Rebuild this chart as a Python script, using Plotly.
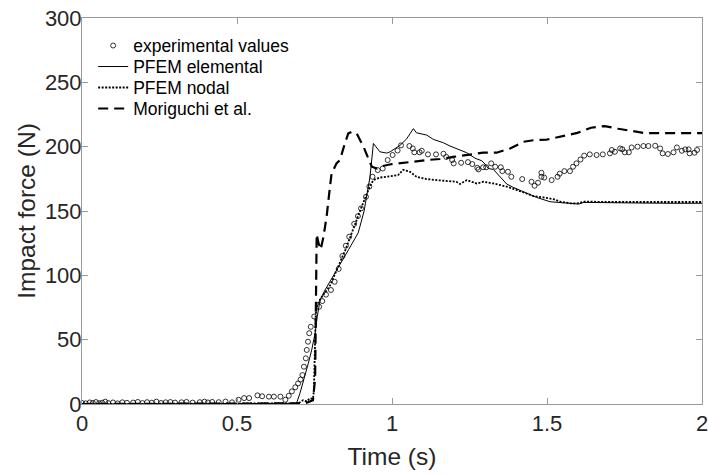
import plotly.graph_objects as go

# Experimental values (circles)
exp_t = [0.0, 0.012, 0.025, 0.035, 0.045, 0.055, 0.065, 0.075, 0.085, 0.1, 0.115, 0.13, 0.145,
         0.165, 0.18, 0.195, 0.21, 0.225, 0.24, 0.255, 0.27, 0.285, 0.3, 0.321, 0.337, 0.357,
         0.38, 0.395, 0.406, 0.42, 0.441, 0.463, 0.484, 0.505, 0.523, 0.539, 0.566, 0.581,
         0.603, 0.619, 0.640, 0.656, 0.667, 0.677, 0.688, 0.697, 0.705, 0.711, 0.716, 0.722,
         0.725, 0.729, 0.733, 0.738, 0.749, 0.765, 0.775, 0.787, 0.803, 0.815, 0.828, 0.84,
         0.851, 0.862, 0.878, 0.89, 0.9, 0.916, 0.927, 0.937, 0.954, 0.970, 0.986, 1.002,
         1.018, 1.029, 1.056, 1.067, 1.072, 1.089, 1.096, 1.116, 1.142, 1.166, 1.175, 1.194,
         1.199, 1.223, 1.245, 1.259, 1.275, 1.279, 1.294, 1.304, 1.320, 1.333, 1.351, 1.356,
         1.374, 1.385, 1.420, 1.450, 1.460, 1.471, 1.482, 1.482, 1.491, 1.515, 1.534, 1.541,
         1.556, 1.574, 1.584, 1.595, 1.608, 1.620, 1.638, 1.660, 1.680, 1.703, 1.709, 1.719,
         1.736, 1.743, 1.751, 1.764, 1.773, 1.792, 1.811, 1.827, 1.849, 1.865, 1.873, 1.890,
         1.908, 1.919, 1.935, 1.946, 1.957, 1.960, 1.976, 1.984]
exp_f = [0.8, 0.5, 1.2, 0.8, 1.5, 0.6, 1.0, 1.8, 0.7, 1.2, 0.5, 1.3, 0.9,
         1.1, 1.6, 0.7, 1.4, 1.0, 1.8, 0.8, 1.3, 1.5, 1.1, 1.3, 1.6, 1.1,
         1.4, 1.8, 1.2, 1.6, 1.4, 1.9, 1.3, 3.3, 4.6, 4.6, 6.7, 6.0,
         5.7, 5.7, 5.7, 3.3, 6.4, 9.8, 13.0, 16.0, 19.0, 22.5, 29.0, 35.5,
         42.0, 48.4, 55.0, 60.0, 68.0, 75.6, 80.0, 85.0, 88.6, 95.0, 105.0, 115.0,
         123.0, 130.0, 140.0, 146.0, 152.0, 161.0, 169.0, 176.6, 181.8, 183.0, 189.6, 193.5,
         197.0, 201.0, 200.5, 198.6, 195.6, 195.6, 196.8, 194.0, 194.0, 194.5, 192.0, 189.6,
         187.0, 187.5, 188.0, 186.5, 183.6, 182.3, 184.0, 184.0, 187.0, 184.4, 184.0, 181.0,
         180.5, 176.6, 174.8, 172.7, 169.6, 172.0, 179.7, 176.6, 176.0, 174.0, 176.6, 179.0,
         181.0, 181.0, 184.4, 187.0, 190.0, 193.0, 194.0, 193.5, 194.0, 194.8, 197.4, 196.0,
         198.6, 198.0, 195.6, 195.6, 199.4, 200.0, 200.5, 200.5, 200.7, 198.6, 194.8, 194.3,
         195.6, 199.4, 196.8, 197.9, 197.9, 194.8, 195.3, 197.4]

# PFEM elemental (solid)
el_t = [0.0, 0.3, 0.6, 0.68, 0.692, 0.703, 0.719, 0.730, 0.741, 0.752, 0.759, 0.768, 0.784,
        0.80, 0.83, 0.86, 0.891, 0.91, 0.929, 0.940, 0.961, 0.983, 0.994, 1.010, 1.026, 1.047,
        1.058, 1.069, 1.079, 1.101, 1.112, 1.133, 1.166, 1.187, 1.219, 1.241, 1.268, 1.290,
        1.303, 1.311, 1.327, 1.338, 1.348, 1.370, 1.391, 1.434, 1.466, 1.510, 1.565, 1.603,
        1.619, 1.7, 1.8, 1.9, 2.0]
el_f = [0.0, 0.3, 0.5, 0.5, 0.5, 8.3, 21.0, 31.6, 42.0, 55.0, 68.0, 81.0, 88.6,
        95.0, 108.0, 120.0, 133.0, 150.0, 176.6, 202.5, 196.0, 195.0, 196.0, 198.6, 201.0, 206.0,
        210.0, 214.0, 210.8, 209.8, 209.0, 205.7, 203.0, 200.5, 197.4, 195.3, 191.0, 189.0,
        185.7, 183.0, 182.3, 179.3, 176.6, 171.0, 168.4, 163.7, 160.6, 157.2, 156.0, 155.4,
        156.7, 156.3, 156.2, 156.0, 156.0]

# PFEM nodal (dotted)
nd_t = [0.0, 0.5, 0.69, 0.698, 0.713, 0.725, 0.735, 0.745, 0.748, 0.750, 0.752, 0.754, 0.760,
        0.77, 0.8, 0.85, 0.9, 0.93, 0.94, 0.961, 0.994, 1.020, 1.036, 1.058, 1.079, 1.112,
        1.144, 1.187, 1.208, 1.219, 1.241, 1.273, 1.294, 1.327, 1.370, 1.412, 1.456, 1.488,
        1.521, 1.543, 1.576, 1.598, 1.620, 1.7, 1.8, 1.9, 2.0]
nd_f = [0.0, 0.0, 0.0, 0.5, 3.0, 2.0, 4.4, 4.0, 10.0, 30.0, 50.0, 70.0, 78.0,
        82.0, 92.0, 120.0, 152.0, 170.0, 174.0, 176.0, 177.0, 178.0, 182.0, 180.5, 176.6, 174.8,
        174.0, 173.3, 172.7, 171.0, 174.0, 171.4, 172.7, 171.4, 169.0, 165.5, 161.6, 160.6,
        159.2, 157.3, 156.0, 156.0, 157.3, 157.0, 157.0, 157.0, 157.0]

# Moriguchi et al. (dashed)
mo_t = [0.0, 0.3, 0.6, 0.72, 0.735, 0.745, 0.752, 0.757, 0.763, 0.770, 0.779, 0.789, 0.8,
        0.805, 0.821, 0.832, 0.848, 0.859, 0.870, 0.886, 0.908, 0.924, 0.935, 0.951, 0.97,
        1.0, 1.026, 1.069, 1.112, 1.155, 1.197, 1.250, 1.294, 1.337, 1.381, 1.424, 1.456,
        1.499, 1.554, 1.598, 1.642, 1.686, 1.730, 1.774, 1.817, 1.861, 2.0]
mo_f = [0.0, 0.0, 0.0, 0.5, 2.0, 3.0, 20.0, 132.0, 125.0, 120.0, 130.0, 145.5, 169.0,
        179.0, 187.0, 189.6, 202.5, 210.3, 211.6, 210.3, 200.0, 191.0, 184.4, 183.0, 185.0,
        186.5, 187.0, 188.3, 189.6, 190.4, 192.0, 193.5, 195.3, 195.3, 198.6, 203.8, 205.0,
        205.5, 208.6, 210.7, 214.7, 216.0, 213.9, 212.0, 210.5, 210.5, 210.5]

x_ticks = [0, 0.5, 1, 1.5, 2]
x_labels = ["0", "0.5", "1", "1.5", "2"]
y_ticks = [0, 50, 100, 150, 200, 250, 300]

FONT = "Liberation Sans, Arial, sans-serif"

fig = go.Figure()
fig.add_trace(go.Scatter(x=exp_t, y=exp_f, mode="markers", name="experimental values",
                         legend="legend",
                         marker=dict(symbol="circle-open", size=5, color="black",
                                     line=dict(width=0.8, color="black"))))
fig.add_trace(go.Scatter(x=el_t, y=el_f, mode="lines", name="PFEM elemental",
                         legend="legend2",
                         line=dict(color="black", width=1)))
fig.add_trace(go.Scatter(x=nd_t, y=nd_f, mode="lines", name="PFEM nodal",
                         legend="legend3",
                         line=dict(color="black", width=1.8, dash="2px,1.5px")))
fig.add_trace(go.Scatter(x=mo_t, y=mo_f, mode="lines", name="Moriguchi et al.",
                         legend="legend4",
                         line=dict(color="black", width=2.2, dash="10px,6px")))

axis_common = dict(showline=True, linecolor="#9a9a9a", linewidth=1, mirror="ticks",
                   ticks="inside", ticklen=6, tickcolor="#9a9a9a", showgrid=False,
                   zeroline=False, ticklabeloverflow="allow", automargin=False,
                   tickfont=dict(family=FONT, size=22, color="#262626"))

leg_common = dict(x=0.018, xanchor="left", yanchor="top", bgcolor="rgba(0,0,0,0)",
                  borderwidth=0, font=dict(family=FONT, size=17.5, color="black"))

fig.update_layout(
    width=708, height=475,
    margin=dict(l=82, r=6, t=18, b=71),
    paper_bgcolor="white", plot_bgcolor="white",
    font=dict(family=FONT, color="#262626"),
    xaxis=dict(range=[0, 2], tickvals=x_ticks, ticktext=x_labels,
               title=dict(text="Time (s)", font=dict(family=FONT, size=24.5, color="#262626"),
                          standoff=12),
               **axis_common),
    yaxis=dict(range=[0, 300], tickvals=y_ticks, ticklabelstandoff=-5,
               title=dict(text="Impact force (N)", font=dict(family=FONT, size=24.5, color="#262626"),
                          standoff=2),
               **axis_common),
    legend=dict(y=0.975, **leg_common),
    legend2=dict(y=0.9206, **leg_common),
    legend3=dict(y=0.8662, **leg_common),
    legend4=dict(y=0.8119, **leg_common),
    showlegend=True,
)

fig.write_html("out.html")
